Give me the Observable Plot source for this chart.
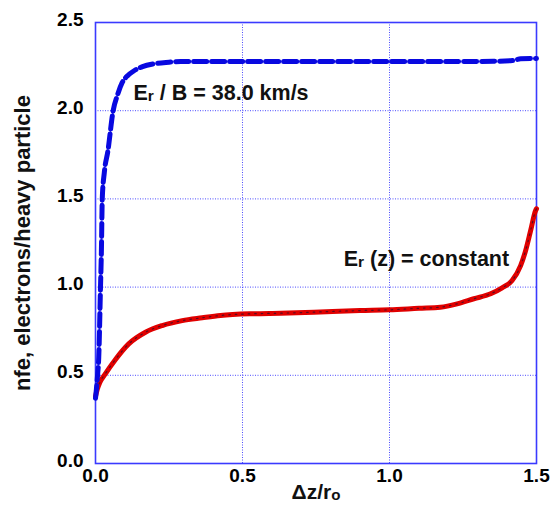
<!DOCTYPE html>
<html>
<head>
<meta charset="utf-8">
<script src="https://cdn.jsdelivr.net/npm/d3@7"></script>
<script src="https://cdn.jsdelivr.net/npm/@observablehq/plot@0.6"></script>
<style>
  html, body { margin: 0; padding: 0; background: #fff; }
  #chart svg { display: block; }
</style>
</head>
<body>
<div id="chart"></div>
<script>
// ---- data ----
const xTicks = [0, 0.5, 1.0, 1.5];
const yTicks = [0, 0.5, 1.0, 1.5, 2.0, 2.5];

const blueX = [0, 0.003, 0.007, 0.011, 0.017, 0.020, 0.023, 0.030, 0.042, 0.060, 0.075, 0.091, 0.110, 0.130, 0.160, 0.198, 0.250, 0.290, 0.500, 0.800, 1.000, 1.200, 1.354, 1.420, 1.446, 1.500];
const blueY = [0.37, 0.42, 0.50, 0.60, 1.00, 1.20, 1.50, 1.65, 1.77, 2.00, 2.09, 2.16, 2.20, 2.225, 2.25, 2.266, 2.275, 2.279, 2.279, 2.279, 2.279, 2.279, 2.280, 2.285, 2.294, 2.296];

const redX = [0, 0.006, 0.015, 0.034, 0.068, 0.113, 0.170, 0.227, 0.295, 0.363, 0.425, 0.538, 0.629, 0.743, 0.900, 1.000, 1.100, 1.173, 1.230, 1.287, 1.344, 1.383, 1.417, 1.446, 1.463, 1.480, 1.497, 1.500];
const redY = [0.38, 0.42, 0.46, 0.51, 0.59, 0.678, 0.744, 0.782, 0.81, 0.826, 0.839, 0.849, 0.852, 0.858, 0.867, 0.871, 0.880, 0.886, 0.905, 0.934, 0.962, 0.996, 1.037, 1.122, 1.207, 1.32, 1.434, 1.444];

const annX = [0.129, 0.844];
const annY = [2.063, 1.122];
const annText = ["E_r / B = 38.0 km/s", "E_r (z) = constant"];

const yLabel = "nfe, electrons/heavy particle";
const xLabel = "Δz/r_o";

// ---- build ----
const blue = blueX.map((x, i) => ({x, y: blueY[i]}));
const red = redX.map((x, i) => ({x, y: redY[i]}));
const ann = annX.map((x, i) => ({x, y: annY[i], t: annText[i]}));

const FONT = "'Liberation Sans', Arial, Helvetica, sans-serif";
const frameBlue = "#3a3aff";

const plot = Plot.plot({
  width: 559,
  height: 509,
  marginLeft: 95,
  marginRight: 23,
  marginTop: 22,
  marginBottom: 46,
  style: {fontFamily: FONT, background: "#fff", color: "#000"},
  x: {domain: [0, 1.5], ticks: xTicks, tickFormat: d3.format(".1f")},
  y: {domain: [0, 2.5], ticks: yTicks, tickFormat: d3.format(".1f")},
  marks: [
    Plot.gridX([0.5, 1.0], {stroke: frameBlue, strokeOpacity: 0.9, strokeWidth: 1, strokeDasharray: "1,1.5"}),
    Plot.gridY([0.5, 1.0, 1.5, 2.0], {stroke: frameBlue, strokeOpacity: 0.9, strokeWidth: 1, strokeDasharray: "1,1.5"}),
    Plot.axisX(xTicks, {tickSize: 0, tickPadding: 5, fontSize: 19, fontWeight: "bold", label: null}),
    Plot.axisY(yTicks, {tickSize: 0, tickPadding: 12, dy: -3, fontSize: 19, fontWeight: "bold", label: null}),
    Plot.frame({stroke: frameBlue, strokeWidth: 1.6}),
    Plot.line(red, {x: "x", y: "y", stroke: "#e00000", strokeWidth: 5, curve: "monotone-x"}),
    Plot.line(red, {x: "x", y: "y", stroke: "#5a0a20", strokeWidth: 1.2, strokeDasharray: "1.5,5", curve: "monotone-x"}),
    Plot.line(blue, {x: "x", y: "y", stroke: "#0808e0", strokeWidth: 5, strokeDasharray: "13,5", curve: "monotone-x"}),
    Plot.text(ann, {x: "x", y: "y", text: "t", textAnchor: "start", lineAnchor: "bottom", fontSize: 21.5, fontWeight: "bold", fill: "#111"}),
    Plot.text([yLabel], {frameAnchor: "left", text: d => d, rotate: -90, textAnchor: "middle", dx: -73, fontSize: 22, fontWeight: "bold", fill: "#111"}),
    Plot.text([xLabel], {frameAnchor: "bottom", text: d => d, dy: 35, fontSize: 21, fontWeight: "bold", fill: "#111"})
  ]
});

// render "_x" as a small subscript character
d3.select(plot).selectAll("text").each(function () {
  const t = this.textContent;
  if (!t.includes("_")) return;
  const parts = t.split(/_(\w)/);
  this.textContent = "";
  parts.forEach((p, i) => {
    const ts = d3.select(this).append("tspan").text(p);
    if (i % 2 === 1) ts.attr("font-size", "72%").attr("dy", 1);
    else if (i > 0) ts.attr("dy", -1);
  });
});

document.getElementById("chart").append(plot);
</script>
</body>
</html>
